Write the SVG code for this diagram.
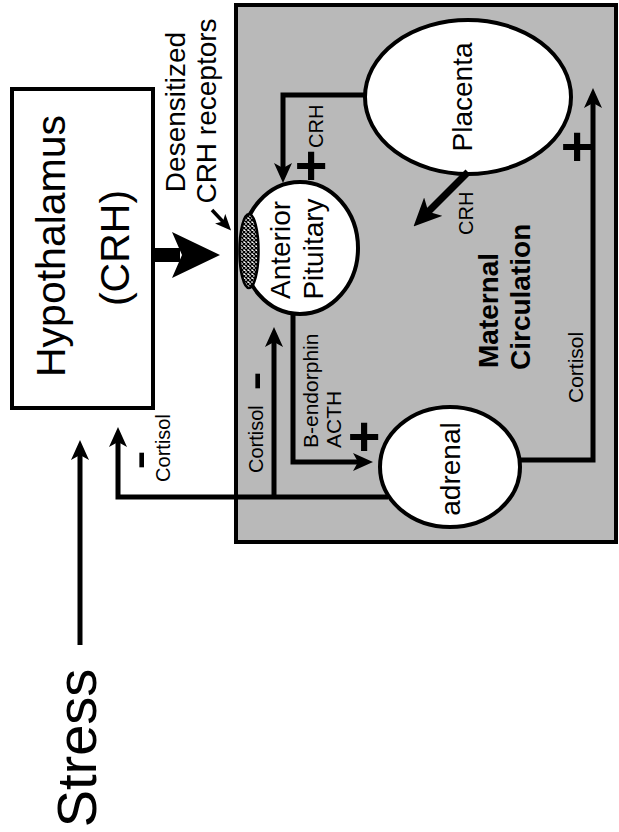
<svg xmlns="http://www.w3.org/2000/svg" width="619" height="832" viewBox="0 0 619 832">
<style>
.t{font-family:"Liberation Sans",Arial,sans-serif;fill:#000}
.b{font-weight:bold}
.ln{fill:none;stroke:#000;stroke-width:5;stroke-linejoin:miter}
.node{fill:#fff;stroke:#000;stroke-width:4}
</style>
<defs>
<marker id="ah" markerUnits="userSpaceOnUse" viewBox="0 0 20 18" refX="12" refY="9" markerWidth="20" markerHeight="18" orient="auto">
<path d="M0,0 L20,9 L0,18 L5,9 Z" fill="#000"/>
</marker>
<marker id="ahL" markerUnits="userSpaceOnUse" viewBox="0 0 28 26" refX="16" refY="13" markerWidth="28" markerHeight="26" orient="auto">
<path d="M0,0 L28,13 L0,26 L7,13 Z" fill="#000"/>
</marker>
<marker id="ahS" markerUnits="userSpaceOnUse" viewBox="0 0 16 14" refX="10" refY="7" markerWidth="16" markerHeight="14" orient="auto">
<path d="M0,0 L16,7 L0,14 L4,7 Z" fill="#000"/>
</marker>
<pattern id="hatch" patternUnits="userSpaceOnUse" width="4" height="4">
<rect width="4" height="4" fill="#fff"/>
<path d="M0,0 L4,4 M4,0 L0,4" stroke="#000" stroke-width="1.3"/>
</pattern>
</defs>
<rect width="619" height="832" fill="#fff"/>

<g id="maternal-circulation">
<rect x="236" y="5" width="380" height="537" fill="#b9b9b9" stroke="#000" stroke-width="4"/>
<text class="t b" font-size="28" transform="translate(498,368) rotate(-90)">Maternal</text>
<text class="t b" font-size="28" transform="translate(530,370) rotate(-90)">Circulation</text>
</g>

<g id="stress">
<text class="t" font-size="56" text-anchor="middle" transform="translate(96,748) rotate(-90)">Stress</text>
</g>

<g id="hypothalamus">
<rect x="12" y="89" width="141" height="319" fill="#fff" stroke="#000" stroke-width="4"/>
<text class="t" font-size="41" text-anchor="middle" transform="translate(65,246) rotate(-90)">Hypothalamus</text>
<text class="t" font-size="41" text-anchor="middle" transform="translate(129,248) rotate(-90)">(CRH)</text>
</g>

<g id="receptors-label">
<text class="t" font-size="28" text-anchor="middle" transform="translate(185,112) rotate(-90)">Desensitized</text>
<text class="t" font-size="28" text-anchor="middle" transform="translate(216,111) rotate(-90)">CRH receptors</text>
</g>

<g id="anterior-pituitary">
<ellipse cx="300" cy="248" rx="58" ry="66" class="node"/>
<ellipse cx="249" cy="251" rx="9.5" ry="37" fill="url(#hatch)" stroke="#000" stroke-width="2.5"/>
<text class="t" font-size="28" text-anchor="middle" transform="translate(290,250) rotate(-90)">Anterior</text>
<text class="t" font-size="28" text-anchor="middle" transform="translate(323,249) rotate(-90)">Pituitary</text>
</g>

<g id="placenta">
<ellipse cx="468" cy="97" rx="103" ry="77" class="node"/>
<text class="t" font-size="28" text-anchor="middle" transform="translate(472,97) rotate(-90)">Placenta</text>
</g>

<g id="adrenal">
<ellipse cx="450" cy="467" rx="70" ry="60" class="node"/>
<text class="t" font-size="28" text-anchor="middle" transform="translate(460,469) rotate(-90)">adrenal</text>
</g>

<g id="connectors">
<line x1="80" y1="645" x2="80" y2="448" class="ln" marker-end="url(#ah)"/>
<polyline points="388,497 118,497 118,435" class="ln" marker-end="url(#ah)"/>
<line x1="274" y1="497" x2="274" y2="335" class="ln" marker-end="url(#ah)"/>
<polyline points="293,313 293,462 365,462" class="ln" marker-end="url(#ah)"/>
<polyline points="366,95 283,95 283,175" class="ln" marker-end="url(#ah)"/>
<polyline points="520,460 593,460 593,96" class="ln" marker-end="url(#ah)"/>
<line x1="468" y1="172" x2="422" y2="218" fill="none" stroke="#000" stroke-width="7" marker-end="url(#ahL)"/>
<line x1="212" y1="210" x2="227" y2="226" fill="none" stroke="#000" stroke-width="3.5" marker-end="url(#ahS)"/>
<path d="M153,248 L180,248 L180,262 L153,262 Z" fill="#000"/>
<path d="M220,255 L172,232 L182,255 L172,278 Z" fill="#000"/>
</g>

<g id="labels">
<text class="t" font-size="20" text-anchor="middle" transform="translate(170,448) rotate(-90)">Cortisol</text>
<text class="t" font-size="60" text-anchor="middle" transform="translate(157,460) rotate(-90)">-</text>
<text class="t" font-size="20" transform="translate(263,473) rotate(-90)">Cortisol</text>
<text class="t" font-size="60" text-anchor="middle" transform="translate(273,381) rotate(-90)">-</text>
<text class="t" font-size="21" transform="translate(318,448) rotate(-90)">B-endorphin</text>
<text class="t" font-size="21" transform="translate(341,448) rotate(-90)">ACTH</text>
<text class="t b" font-size="56" text-anchor="middle" x="364" y="455">+</text>
<text class="t" font-size="20" transform="translate(323,148) rotate(-90)">CRH</text>
<text class="t b" font-size="56" text-anchor="middle" x="311" y="184">+</text>
<text class="t" font-size="20" transform="translate(473,235) rotate(-90)">CRH</text>
<text class="t" font-size="21" transform="translate(583,403) rotate(-90)">Cortisol</text>
<text class="t b" font-size="56" text-anchor="middle" x="577" y="165">+</text>
</g>
</svg>
